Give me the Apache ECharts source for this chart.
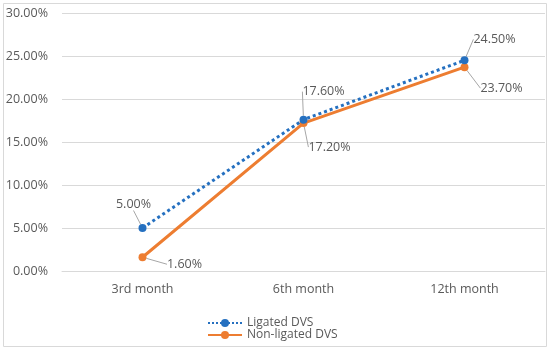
<!DOCTYPE html>
<html><head><meta charset="utf-8">
<script src="https://cdn.jsdelivr.net/npm/echarts@6/dist/echarts.min.js"></script>
<style>html,body{margin:0;padding:0;background:#fff}#c{width:550px;height:351px}</style>
</head><body><div id="c"></div>
<script>
var categories = ['3rd month', '6th month', '12th month'];
var ligated = [5.0, 17.6, 24.5];
var nonLigated = [1.6, 17.2, 23.7];
var seriesNames = ['Ligated DVS', 'Non-ligated DVS'];

var ligOffsets = [[-9, -24], [20, -28], [30, -21]];
var nonOffsets = [[42, 7], [26, 24], [37, 21]];

var chart = echarts.init(document.getElementById('c'));
var fmt = function (p) { return p.value.toFixed(2) + '%'; };
var txt = '#595959';
chart.setOption({
  animation: false,
  textStyle: { fontFamily: 'Open Sans' },
  graphic: [{ type: 'rect', shape: { x: 3.5, y: 3.5, width: 543, height: 343 }, style: { fill: 'none', stroke: '#d9d9d9', lineWidth: 1 } }],
  grid: { left: 62, right: 5, top: 13, bottom: 80 },
  legend: {
    orient: 'vertical', left: 202, top: 312, itemGap: 0, itemWidth: 34, itemHeight: 10,
    textStyle: { color: txt, fontSize: 12, fontFamily: 'Open Sans' },
    data: seriesNames
  },
  xAxis: {
    type: 'category', data: categories, boundaryGap: true,
    axisLine: { lineStyle: { color: '#d9d9d9' } }, axisTick: { show: false },
    axisLabel: { color: txt, fontSize: 12.5, margin: 12 }
  },
  yAxis: {
    type: 'value', min: 0, max: 30, interval: 5,
    axisLine: { show: false }, axisTick: { show: false },
    splitLine: { lineStyle: { color: '#d9d9d9' } },
    axisLabel: { color: txt, fontSize: 12.5, margin: 14, formatter: function (v) { return v.toFixed(2) + '%'; } }
  },
  series: [{
    name: seriesNames[0], type: 'line', data: ligated, symbol: 'circle', symbolSize: 8,
    itemStyle: { color: '#2570c0' }, lineStyle: { color: '#2570c0', width: 3, type: 'dotted' },
    label: { show: true, position: 'inside', formatter: fmt, color: txt, fontSize: 12.5 },
    labelLine: { show: true, lineStyle: { color: '#a6a6a6', width: 1 } },
    labelLayout: function (p) { var o = ligOffsets[p.dataIndex]; return { dx: o[0], dy: o[1] }; },
    z: 3
  }, {
    name: seriesNames[1], type: 'line', data: nonLigated, symbol: 'circle', symbolSize: 8,
    itemStyle: { color: '#ed7d31' }, lineStyle: { color: '#ed7d31', width: 3 },
    label: { show: true, position: 'inside', formatter: fmt, color: txt, fontSize: 12.5 },
    labelLine: { show: true, lineStyle: { color: '#a6a6a6', width: 1 } },
    labelLayout: function (p) { var o = nonOffsets[p.dataIndex]; return { dx: o[0], dy: o[1] }; },
    z: 2
  }]
});
</script></body></html>
